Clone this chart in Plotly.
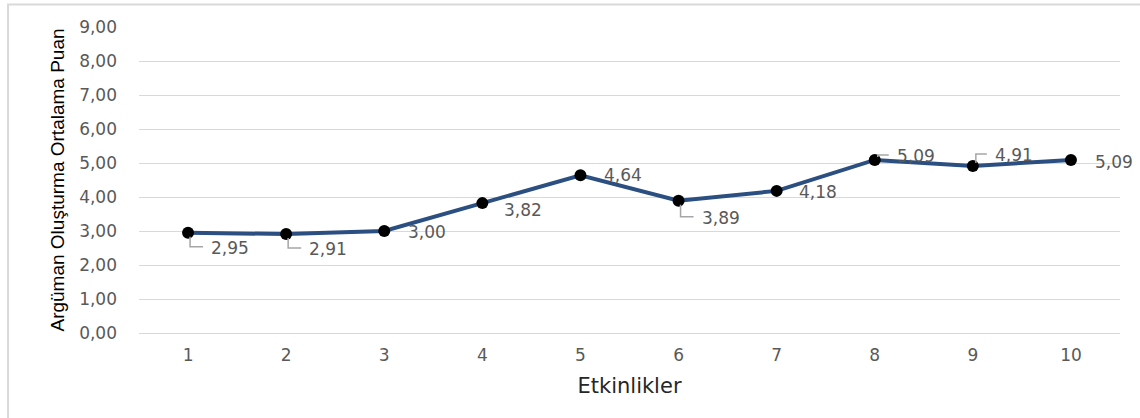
import plotly.graph_objects as go

# Activity numbers and mean argument-construction scores
etkinlikler = [1, 2, 3, 4, 5, 6, 7, 8, 9, 10]
puanlar = [2.95, 2.91, 3.00, 3.82, 4.64, 3.89, 4.18, 5.09, 4.91, 5.09]
y_ticks = [0, 1, 2, 3, 4, 5, 6, 7, 8, 9]

def tr_format(v):
    return f"{v:.2f}".replace(".", ",")

LABEL_FONT = "DejaVu Sans"

# label placement per point: (left offset px, vertical offset px, leader style)
label_pos = {
    1: (21, -15, "down"), 2: (21, -15, "down"), 3: (22, -1, None),
    4: (20, -7, None), 5: (22, 0, None), 6: (21, -17, "down"),
    7: (20, -1, None), 8: (20, 4, "up"), 9: (20, 11, "up"), 10: (22, -2, None),
}

fig = go.Figure()
fig.add_trace(go.Scatter(
    x=etkinlikler, y=puanlar, mode="lines+markers",
    line=dict(color="#2B4F81", width=4),
    marker=dict(color="black", size=12),
    hoverinfo="skip", showlegend=False,
))

annotations = []
shapes = []
for x, v in zip(etkinlikler, puanlar):
    dx, dy, leader = label_pos[x]
    annotations.append(dict(
        x=x, y=v, xref="x", yref="y", text=tr_format(v), showarrow=False,
        xanchor="left", xshift=dx, yshift=dy,
        font=dict(family=LABEL_FONT, size=17, color="#595959"),
    ))
    if leader == "down":
        path = "M 2,-4 L 2,%d L 15,%d" % (dy + 1, dy + 1)
    elif leader == "up":
        path = "M 3,3 L 3,%d L 14,%d" % (dy + 1, dy + 1)
    else:
        continue
    shapes.append(dict(
        type="path", xref="x", yref="y", xsizemode="pixel", ysizemode="pixel",
        xanchor=x, yanchor=v, path=path, line=dict(color="#A6A6A6", width=1.5),
    ))

# outer chart border
shapes.append(dict(
    type="rect", xref="paper", yref="paper", x0=-0.1335, x1=1.05, y0=-0.4, y1=1.0735,
    line=dict(color="#D9D9D9", width=2), fillcolor="rgba(0,0,0,0)", layer="below",
))

fig.update_layout(
    width=1140, height=418,
    margin=dict(l=139, r=20, t=27, b=85),
    paper_bgcolor="white", plot_bgcolor="white",
    annotations=annotations, shapes=shapes,
    xaxis=dict(
        range=[0.5, 10.5], tickmode="array", tickvals=etkinlikler,
        ticktext=[str(e) for e in etkinlikler], showgrid=False, zeroline=False,
        showline=False, ticks="", ticklabelstandoff=10,
        tickfont=dict(family=LABEL_FONT, size=17, color="#595959"),
        title=dict(text="Etkinlikler", standoff=14,
                   font=dict(family=LABEL_FONT, size=21, color="#262626")),
    ),
    yaxis=dict(
        range=[0, 9], tickmode="array", tickvals=y_ticks,
        ticktext=[tr_format(t) for t in y_ticks], showgrid=True,
        gridcolor="#D9D9D9", gridwidth=1, zeroline=True, zerolinecolor="#D9D9D9",
        zerolinewidth=1, showline=False, ticks="", ticklabelstandoff=21,
        tickfont=dict(family=LABEL_FONT, size=17, color="#595959"),
        title=dict(text="Argüman Oluşturma Ortalama Puan", standoff=9,
                   font=dict(family="Liberation Sans Narrow, Liberation Sans", size=19, color="#000000")),
    ),
)

fig.write_html("out.html")
